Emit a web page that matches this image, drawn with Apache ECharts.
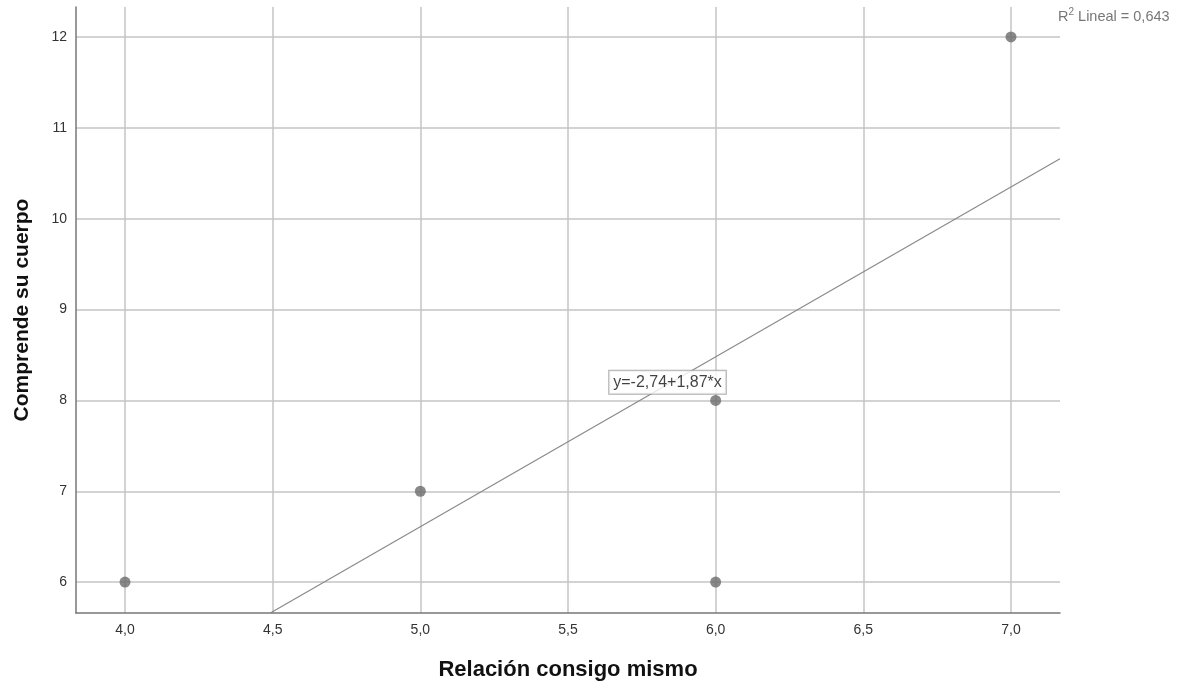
<!DOCTYPE html>
<html><head><meta charset="utf-8">
<script src="https://cdn.jsdelivr.net/npm/echarts@6/dist/echarts.min.js"></script>
<style>html,body{margin:0;padding:0;background:#fff}#c{width:1190px;height:690px}</style>
</head><body><div id="c"></div>
<script>
const pointsX = [4, 5, 6, 6, 7];
const pointsY = [6, 7, 8, 6, 12];
const xTicks = [4.0, 4.5, 5.0, 5.5, 6.0, 6.5, 7.0];
const yTicks = [6, 7, 8, 9, 10, 11, 12];
const intercept = -2.74;
const slope = 1.87;
const r2Text = '0,643';
const eqText = 'y=-2,74+1,87*x';
const eqAnchor = [5.837, 8.2];
const xMin = 3.834, xMax = 7.166, yMin = 5.66, yMax = 12.33;

const fmt = v => v.toFixed(1).replace('.', ',');
const lineStartX = (yMin - intercept) / slope;
const regData = [[lineStartX, intercept + slope * lineStartX], [xMax, intercept + slope * xMax]];
const font = 'Liberation Sans, Arial, sans-serif';

const chart = echarts.init(document.getElementById('c'));
chart.setOption({
  animation: false,
  grid: {left: 76, top: 7, right: 130, bottom: 77},
  xAxis: {
    type: 'value', min: xMin, max: xMax,
    name: 'Relación consigo mismo', nameLocation: 'middle', nameGap: 46,
    nameTextStyle: {fontSize: 22, fontWeight: 'bold', color: '#111', fontFamily: font},
    axisLine: {show: true, lineStyle: {color: '#777', width: 1.5}},
    axisTick: {show: false},
    splitLine: {show: false},
    axisLabel: {customValues: xTicks, formatter: v => fmt(v), fontSize: 14, color: '#333', margin: 10, fontFamily: font}
  },
  yAxis: {
    type: 'value', min: yMin, max: yMax,
    name: 'Comprende su cuerpo', nameLocation: 'middle', nameGap: 43,
    nameTextStyle: {fontSize: 21, fontWeight: 'bold', color: '#111', fontFamily: font},
    axisLine: {show: true, lineStyle: {color: '#777', width: 1.5}},
    axisTick: {show: false},
    splitLine: {show: false},
    axisLabel: {customValues: yTicks, formatter: v => String(v), fontSize: 14, color: '#333', margin: 9, fontFamily: font}
  },
  graphic: [{
    type: 'text', left: 1058, top: 7,
    style: {
      text: '{r|R}{s|2}{r| Lineal = ' + r2Text + '}',
      rich: {
        r: {fontSize: 14.5, fill: '#777', fontFamily: font, verticalAlign: 'bottom'},
        s: {fontSize: 10, fill: '#777', fontFamily: font, verticalAlign: 'top', padding: [0, 0, 7, 0]}
      }
    }
  }],
  series: [
    {
      type: 'line', data: [], silent: true, z: 0,
      markLine: {
        symbol: 'none', silent: true, label: {show: false}, z: 0,
        lineStyle: {color: '#c4c4c4', width: 1.5, type: 'solid'},
        data: xTicks.map(v => ({xAxis: v})).concat(yTicks.map(v => ({yAxis: v})))
      }
    },
    {
      type: 'line', data: regData, showSymbol: false, symbol: 'none',
      lineStyle: {color: '#8a8a8a', width: 1.2}, clip: true, z: 3
    },
    {
      type: 'scatter', data: pointsX.map((x, i) => [x, pointsY[i]]),
      symbolSize: 11, itemStyle: {color: '#6c6c6c'}, z: 10
    },
    {
      type: 'scatter', data: [eqAnchor], symbolSize: 0, z: 12,
      label: {
        show: true, position: 'inside', formatter: eqText,
        fontSize: 16, color: '#111', fontFamily: font,
        backgroundColor: '#fff', borderColor: '#999', borderWidth: 1, padding: [4, 4, 3, 4]
      }
    }
  ]
});
</script></body></html>
